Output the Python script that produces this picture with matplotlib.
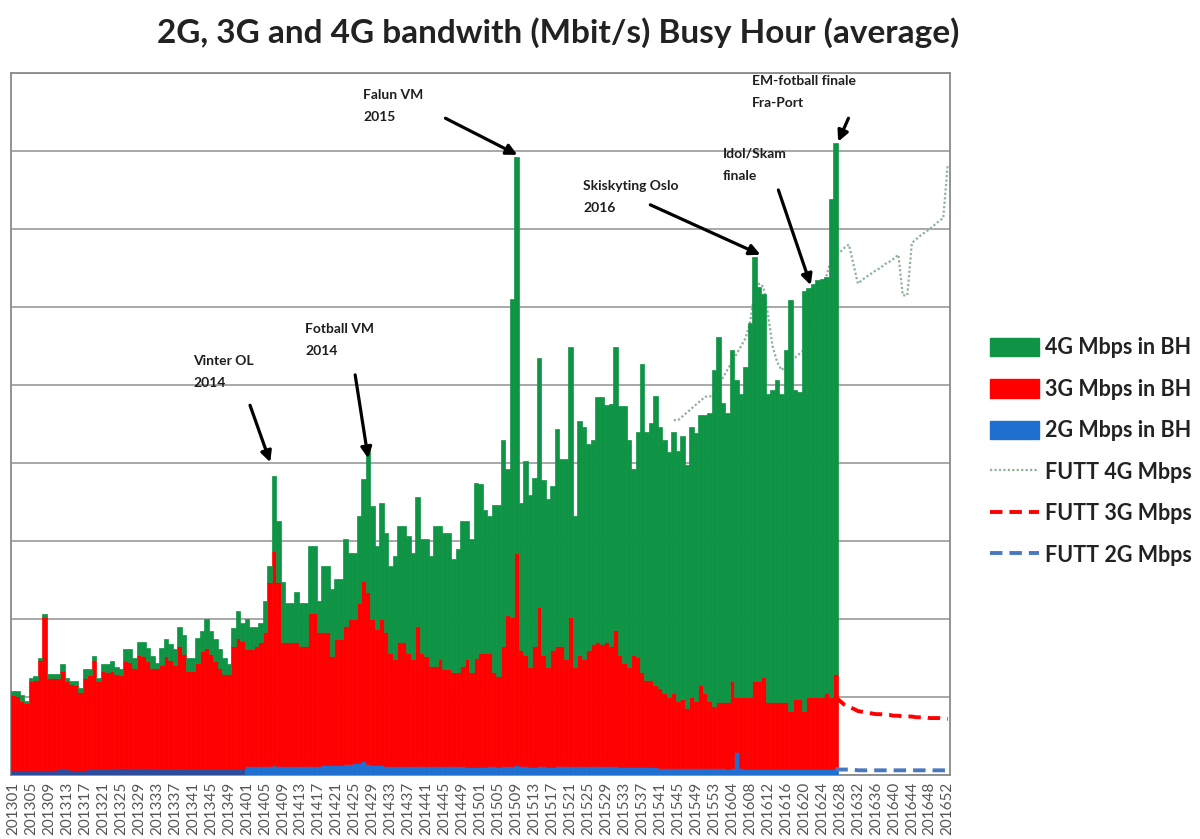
import matplotlib
matplotlib.use('Agg')
import matplotlib.pyplot as plt
import numpy as np
from matplotlib.patches import Patch
from matplotlib.lines import Line2D

plt.rcParams['font.family'] = ['Lato', 'DejaVu Sans']

# week axis 201301 .. 201652 (2015 has 53 weeks)
years = [2013, 2014, 2015, 2016]
weeks_in_year = [52, 52, 53, 52]
week_labels = []
for yr, n in zip(years, weeks_in_year):
    for w in range(1, n + 1):
        week_labels.append('%d%02d' % (yr, w))

# measured busy hour values 201301 .. 201627
# top of the stack (2G+3G+4G)
total_2013 = [1.08, 1.08, 1.03, 0.95, 1.25, 1.27, 1.5, 2.06, 1.3, 1.3,
              1.3, 1.42, 1.24, 1.2, 1.2, 1.12, 1.36, 1.36, 1.53, 1.25,
              1.42, 1.42, 1.46, 1.38, 1.36, 1.61, 1.61, 1.5, 1.7, 1.7,
              1.63, 1.53, 1.44, 1.63, 1.75, 1.68, 1.61, 1.9, 1.8, 1.5,
              1.5, 1.76, 1.85, 2.0, 1.85, 1.74, 1.61, 1.5, 1.42, 1.89,
              2.1, 1.95]
total_2014 = [2.0, 1.9, 1.9, 1.95, 2.23, 2.68, 3.83, 3.26, 2.47, 2.21,
              2.21, 2.34, 2.21, 2.21, 2.94, 2.94, 2.23, 2.68, 2.68, 2.38,
              2.51, 2.51, 3.02, 2.85, 2.85, 3.32, 3.79, 4.21, 3.45, 2.94,
              3.49, 3.1, 2.68, 2.81, 3.19, 3.19, 3.06, 2.85, 3.57, 3.02,
              3.02, 2.81, 3.19, 3.19, 3.1, 3.1, 2.77, 2.9, 3.26, 3.26,
              3.02, 3.74]
total_2015 = [3.73, 3.4, 3.32, 3.46, 3.46, 4.3, 3.92, 6.1, 7.92, 3.49,
              4.03, 3.59, 3.81, 5.35, 3.78, 3.54, 3.7, 4.43, 4.05, 4.05,
              5.49, 3.32, 4.54, 4.46, 4.24, 4.3, 4.84, 4.84, 4.75, 4.75,
              5.49, 4.73, 4.73, 4.3, 3.92, 4.4, 5.27, 4.4, 4.51, 4.86,
              4.46, 4.3, 4.14, 4.4, 4.16, 4.35, 3.97, 4.46, 4.38, 4.62,
              4.62, 4.64, 5.19]
total_2016 = [5.62, 4.77, 4.64, 5.45, 5.06, 4.89, 5.23, 5.79, 6.64, 6.26,
              6.17, 4.89, 4.94, 5.06, 4.89, 5.45, 6.09, 4.94, 4.91, 6.21,
              6.24, 6.3, 6.34, 6.36, 6.38, 7.38, 8.1]

# top of 3G (2G+3G)
top3g_2013 = [1.03, 1.01, 0.95, 0.92, 1.2, 1.22, 1.48, 2.02, 1.25, 1.25,
              1.25, 1.33, 1.2, 1.17, 1.15, 1.07, 1.24, 1.28, 1.48, 1.2,
              1.33, 1.32, 1.33, 1.3, 1.28, 1.46, 1.45, 1.37, 1.54, 1.52,
              1.46, 1.37, 1.37, 1.41, 1.52, 1.48, 1.41, 1.65, 1.55, 1.33,
              1.33, 1.43, 1.59, 1.63, 1.55, 1.46, 1.37, 1.3, 1.3, 1.65,
              1.76, 1.72]
top3g_2014 = [1.62, 1.62, 1.65, 1.7, 1.83, 2.47, 2.87, 2.47, 1.7, 1.7,
              1.7, 1.7, 1.66, 1.66, 2.08, 2.08, 1.83, 1.83, 1.83, 1.53,
              1.74, 1.74, 1.91, 2.0, 2.0, 2.21, 2.49, 2.34, 2.0, 1.87,
              2.0, 1.83, 1.57, 1.49, 1.7, 1.7, 1.57, 1.49, 1.91, 1.57,
              1.53, 1.4, 1.4, 1.49, 1.36, 1.36, 1.32, 1.32, 1.4, 1.49,
              1.32, 1.5]
top3g_2015 = [1.57, 1.57, 1.57, 1.32, 1.27, 1.65, 2.05, 2.03, 2.84, 1.6,
              1.54, 1.38, 1.65, 2.16, 1.54, 1.38, 1.6, 1.65, 1.65, 1.49,
              2.03, 1.38, 1.54, 1.49, 1.6, 1.68, 1.7, 1.68, 1.7, 1.65,
              1.86, 1.54, 1.43, 1.38, 1.54, 1.51, 1.32, 1.22, 1.22, 1.16,
              1.11, 1.05, 1.0, 1.05, 0.95, 0.97, 0.86, 1.0, 0.95, 1.16,
              1.05, 0.95, 0.89]
top3g_2016 = [0.94, 0.94, 0.94, 1.2, 1.0, 1.0, 1.0, 1.0, 1.2, 1.2,
              1.26, 0.94, 0.94, 0.94, 0.94, 0.94, 0.82, 0.97, 0.97, 0.82,
              1.0, 1.0, 1.0, 1.0, 1.05, 1.0, 1.3]

# 2G
g2_2013 = [0.06, 0.06, 0.06, 0.06, 0.07, 0.07, 0.07, 0.07, 0.07, 0.07,
           0.08, 0.09, 0.08, 0.07, 0.07, 0.07, 0.07, 0.08, 0.08, 0.08,
           0.08, 0.08, 0.09, 0.09, 0.09, 0.09, 0.09, 0.09, 0.09, 0.09,
           0.09, 0.09, 0.08, 0.08, 0.08, 0.08, 0.08, 0.08, 0.08, 0.08,
           0.08, 0.08, 0.08, 0.08, 0.08, 0.08, 0.08, 0.08, 0.08, 0.08,
           0.08, 0.08]
g2_2014 = [0.11, 0.11, 0.11, 0.12, 0.12, 0.12, 0.13, 0.12, 0.12, 0.11,
           0.11, 0.11, 0.12, 0.12, 0.12, 0.12, 0.12, 0.13, 0.13, 0.13,
           0.13, 0.13, 0.14, 0.14, 0.15, 0.16, 0.18, 0.14, 0.13, 0.13,
           0.13, 0.12, 0.12, 0.12, 0.12, 0.12, 0.12, 0.12, 0.12, 0.12,
           0.11, 0.11, 0.11, 0.11, 0.11, 0.11, 0.11, 0.11, 0.11, 0.10,
           0.10, 0.10]
g2_2015 = [0.10, 0.10, 0.11, 0.11, 0.10, 0.11, 0.12, 0.12, 0.13, 0.11,
           0.11, 0.10, 0.10, 0.11, 0.11, 0.10, 0.10, 0.11, 0.11, 0.11,
           0.12, 0.11, 0.11, 0.12, 0.12, 0.12, 0.12, 0.11, 0.11, 0.11,
           0.11, 0.10, 0.10, 0.10, 0.10, 0.10, 0.10, 0.10, 0.10, 0.10,
           0.09, 0.09, 0.09, 0.09, 0.09, 0.09, 0.09, 0.09, 0.09, 0.09,
           0.09, 0.09, 0.09]
g2_2016 = [0.09, 0.09, 0.08, 0.09, 0.30, 0.09, 0.08, 0.08, 0.08, 0.08,
           0.08, 0.08, 0.08, 0.08, 0.08, 0.08, 0.08, 0.08, 0.08, 0.08,
           0.08, 0.08, 0.08, 0.08, 0.08, 0.08, 0.08]

# forecast (FUTT) lines
futt4_first = '201544'
futt_4g = [4.55, 4.55, 4.6, 4.65, 4.7, 4.75, 4.8, 4.85, 4.85, 4.9,
           5.0, 5.1, 5.2, 5.3, 5.4, 5.5, 5.6, 5.8, 6.2, 6.3,
           6.26, 5.9, 5.5, 5.3, 5.19, 5.25, 5.3, 5.35, 5.4, 5.45,
           5.6, 5.8, 6.0, 6.2, 6.4, 6.6, 6.7, 6.7, 6.76, 6.8,
           6.55, 6.3, 6.35, 6.39, 6.43, 6.47, 6.5, 6.55, 6.58, 6.62,
           6.67, 6.15, 6.15, 6.82, 6.87, 6.92, 6.96, 7.0, 7.05, 7.1,
           7.14, 7.83]
futt_first = '201627'
futt_3g = [1.0, 0.95, 0.9, 0.87, 0.85, 0.82, 0.81, 0.8, 0.79, 0.78,
           0.78, 0.77, 0.77, 0.76, 0.76, 0.75, 0.75, 0.75, 0.74, 0.74,
           0.74, 0.73, 0.73, 0.73, 0.72, 0.72]
futt_2g = [0.08, 0.07, 0.07, 0.07, 0.07, 0.06, 0.06, 0.06, 0.06, 0.06,
           0.06, 0.06, 0.06, 0.06, 0.06, 0.06, 0.06, 0.06, 0.06, 0.06,
           0.06, 0.06, 0.06, 0.06, 0.06, 0.06]

# events
events = ['Vinter OL\n2014', 'Fotball VM\n2014', 'Falun VM\n2015',
          'Skiskyting Oslo\n2016', 'Idol/Skam\nfinale', 'EM-fotball finale\nFra-Port']
event_text_xy = [(40.0, 5.38), (65.0, 5.8), (77.9, 8.79), (126.9, 7.63), (157.9, 8.04), (164.5, 8.97)]
event_arrow_from = [(52.7, 4.74), (76.1, 5.13), (96.2, 8.42), (141.8, 7.31), (170.3, 7.5), (185.9, 8.42)]
event_arrow_to = [(57.2, 4.01), (79.0, 4.06), (112.2, 7.95), (166.3, 6.67), (177.5, 6.28), (183.6, 8.12)]

total = np.array(total_2013 + total_2014 + total_2015 + total_2016)
top3g = np.array(top3g_2013 + top3g_2014 + top3g_2015 + top3g_2016)
mbps_2g = np.array(g2_2013 + g2_2014 + g2_2015 + g2_2016)
mbps_3g = top3g - mbps_2g
mbps_4g = np.maximum(total - top3g, 0)
x = np.arange(len(total))

green = '#0F9446'
red = '#FF0000'
blue = '#1F6FD0'

fig = plt.figure(figsize=(12, 8.39), dpi=100)
ax = fig.add_axes([11 / 1200, 1 - 775 / 839, 939 / 1200, 702 / 839])

blue_cols = ['#2B4C9B' if i < 52 else blue for i in x]
ax.bar(x, mbps_2g, width=1.0, color=blue_cols, edgecolor=blue_cols, linewidth=0.5, zorder=3)
ax.bar(x, mbps_3g, width=1.0, bottom=mbps_2g, color=red, edgecolor=red, linewidth=0.5, zorder=3)
ax.bar(x, mbps_4g, width=1.0, bottom=top3g, color=green, edgecolor=green, linewidth=0.5, zorder=3)

i4 = week_labels.index(futt4_first)
ax.plot(np.arange(i4, i4 + len(futt_4g)), futt_4g, color='#8FB39A', lw=1.6,
        linestyle=(0, (1, 1)), zorder=2)
i3 = week_labels.index(futt_first)
ax.plot(np.arange(i3, i3 + len(futt_3g)), futt_3g, color=red, lw=2.8,
        linestyle=(0, (3.2, 1.8)), zorder=4)
ax.plot(np.arange(i3, i3 + len(futt_2g)), futt_2g, color='#4A78C0', lw=2.8,
        linestyle=(0, (3.2, 1.8)), zorder=4)

for txt, txy, a0, a1 in zip(events, event_text_xy, event_arrow_from, event_arrow_to):
    ax.text(txy[0], txy[1], txt, ha='left', va='top', fontsize=10,
            fontweight='bold', color='#1E1E1E', linespacing=2.0, zorder=6)
    ax.annotate('', xy=a1, xytext=a0,
                arrowprops=dict(arrowstyle='-|>', color='black', lw=2.3,
                                mutation_scale=16, shrinkA=0, shrinkB=0), zorder=6)

ax.set_xlim(-0.5, len(week_labels) - 0.5)
ax.set_ylim(0, 9)
ax.set_yticks(np.arange(0, 10))
ax.set_yticklabels([])
ax.tick_params(axis='y', length=0)
ax.grid(axis='y', color='#9A9A9A', lw=1.2, zorder=1)
ax.set_axisbelow(True)
ax.set_xticks(np.arange(0, len(week_labels), 4))
ax.set_xticklabels(week_labels[::4], rotation=90, fontsize=11, color='#555555')
ax.tick_params(axis='x', length=0, pad=5)
for s in ax.spines.values():
    s.set_color('#8A8A8A')
    s.set_linewidth(1.3)

fig.text(0.465, 0.961, '2G, 3G and 4G bandwith (Mbit/s) Busy Hour (average)',
         ha='center', va='center', fontsize=24, fontweight='bold', color='#222222')

handles = [Patch(color=green, label='4G Mbps in BH'),
           Patch(color=red, label='3G Mbps in BH'),
           Patch(color=blue, label='2G Mbps in BH'),
           Line2D([], [], color='#8FB39A', lw=1.6, linestyle=(0, (1, 1)), label='FUTT 4G Mbps'),
           Line2D([], [], color=red, lw=2.8, linestyle=(0, (3.2, 1.8)), label='FUTT 3G Mbps'),
           Line2D([], [], color='#4A78C0', lw=2.8, linestyle=(0, (3.2, 1.8)), label='FUTT 2G Mbps')]
leg = fig.legend(handles=handles, loc='upper left', bbox_to_anchor=(984 / 1200, 1 - 331 / 839),
                 frameon=False, handlelength=2.25, handleheight=0.95, handletextpad=0.3,
                 labelspacing=0.95, borderaxespad=0, borderpad=0.3,
                 prop={'weight': 'bold', 'size': 15.5})
for t in leg.get_texts():
    t.set_color('#222222')

fig.savefig('out.png', dpi=100)
